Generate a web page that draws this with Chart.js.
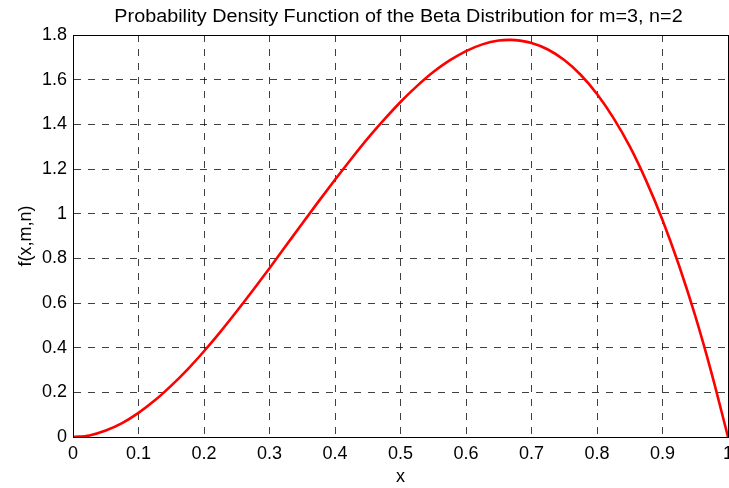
<!DOCTYPE html>
<html>
<head>
<meta charset="utf-8">
<script src="https://cdn.jsdelivr.net/npm/chart.js@4/dist/chart.umd.min.js"></script>
<style>
  html, body { margin: 0; padding: 0; background: #fff; }
  #wrap { width: 729px; height: 488px; position: relative; }
</style>
</head>
<body>
<div id="wrap"><canvas id="c" width="729" height="488"></canvas></div>
<script>
// Beta density, m=3, n=2, sampled along x
const xValues = [0, 0.025, 0.05, 0.075, 0.1, 0.125, 0.15, 0.175, 0.2, 0.225, 0.25, 0.275,
  0.3, 0.325, 0.35, 0.375, 0.4, 0.425, 0.45, 0.475, 0.5, 0.525, 0.55, 0.575, 0.6, 0.625,
  0.65, 0.667, 0.675, 0.7, 0.725, 0.75, 0.775, 0.8, 0.825, 0.85, 0.875, 0.9, 0.925, 0.95, 0.975, 1];
const densityValues = [0, 0.007, 0.029, 0.062, 0.108, 0.164, 0.230, 0.303, 0.384, 0.471, 0.563, 0.658,
  0.756, 0.856, 0.956, 1.055, 1.152, 1.246, 1.337, 1.421, 1.500, 1.571, 1.634, 1.686, 1.728, 1.758,
  1.775, 1.778, 1.777, 1.764, 1.735, 1.688, 1.622, 1.536, 1.429, 1.301, 1.148, 0.972, 0.770, 0.542, 0.285, 0];
const xTicks = [0, 0.1, 0.2, 0.3, 0.4, 0.5, 0.6, 0.7, 0.8, 0.9, 1];
const yTicks = [0, 0.2, 0.4, 0.6, 0.8, 1, 1.2, 1.4, 1.6, 1.8];
const titleText = 'Probability Density Function of the Beta Distribution for m=3, n=2';

const FONT = "'Liberation Sans', Arial, Helvetica, sans-serif";
const fmt = v => String(parseFloat(Number(v).toFixed(2)));

// Closed box around the plot area, plus the title centred over it
const boxPlugin = {
  id: 'box',
  afterDatasetsDraw(chart) {
    const { ctx, chartArea: a } = chart;
    ctx.save();
    ctx.strokeStyle = '#000';
    ctx.lineWidth = 1;
    ctx.setLineDash([]);
    ctx.strokeRect(Math.round(a.left) + 0.5, Math.round(a.top) + 0.5,
      Math.round(a.right - a.left), Math.round(a.bottom - a.top));
    ctx.restore();
  },
  afterDraw(chart) {
    const { ctx, chartArea: a } = chart;
    ctx.save();
    ctx.fillStyle = '#000';
    ctx.font = '17.5px ' + FONT;
    ctx.textAlign = 'center';
    ctx.textBaseline = 'alphabetic';
    ctx.translate((a.left + a.right) / 2 - 2, 22);
    ctx.scale(1.13, 1);
    ctx.fillText(titleText, 0, 0);
    ctx.restore();
  }
};

new Chart(document.getElementById('c'), {
  type: 'line',
  data: {
    datasets: [{
      data: xValues.map((x, i) => ({ x, y: densityValues[i] })),
      borderColor: '#ff0000',
      borderWidth: 2.6,
      pointRadius: 0,
      fill: false,
      cubicInterpolationMode: 'monotone'
    }]
  },
  options: {
    responsive: false,
    animation: false,
    layout: { padding: { left: 0, right: 1, top: 35, bottom: 0 } },
    plugins: {
      legend: { display: false },
      tooltip: { enabled: false },
      title: { display: false }
    },
    scales: {
      x: {
        type: 'linear',
        min: 0, max: 1,
        afterBuildTicks: s => { s.ticks = xTicks.map(v => ({ value: v })); },
        afterFit: s => { s.height = 51; s.paddingLeft = 0; s.paddingRight = 0; },
        ticks: {
          color: '#000',
          padding: 6,
          maxRotation: 0,
          autoSkip: false,
          font: { family: FONT, size: 18 },
          callback: v => fmt(v)
        },
        grid: { color: 'rgba(0,0,0,0.75)', lineWidth: 1, drawTicks: false },
        border: { color: '#000', width: 1, dash: [7, 7] },
        title: {
          display: true, text: 'x', color: '#000',
          font: { family: FONT, size: 18 },
          padding: { top: 0, bottom: 0 }
        }
      },
      y: {
        min: 0, max: 1.8,
        afterBuildTicks: s => { s.ticks = yTicks.map(v => ({ value: v })); },
        afterFit: s => { s.width = 73; s.paddingTop = 0; s.paddingBottom = 0; },
        ticks: {
          color: '#000',
          padding: 6,
          autoSkip: false,
          font: { family: FONT, size: 18 },
          callback: v => fmt(v)
        },
        grid: { color: 'rgba(0,0,0,0.75)', lineWidth: 1, drawTicks: false },
        border: { color: '#000', width: 1, dash: [7, 7] },
        title: {
          display: true, text: 'f(x,m,n)', color: '#000',
          font: { family: FONT, size: 18 },
          padding: { top: 15 }
        }
      }
    }
  },
  plugins: [boxPlugin]
});
</script>
</body>
</html>
